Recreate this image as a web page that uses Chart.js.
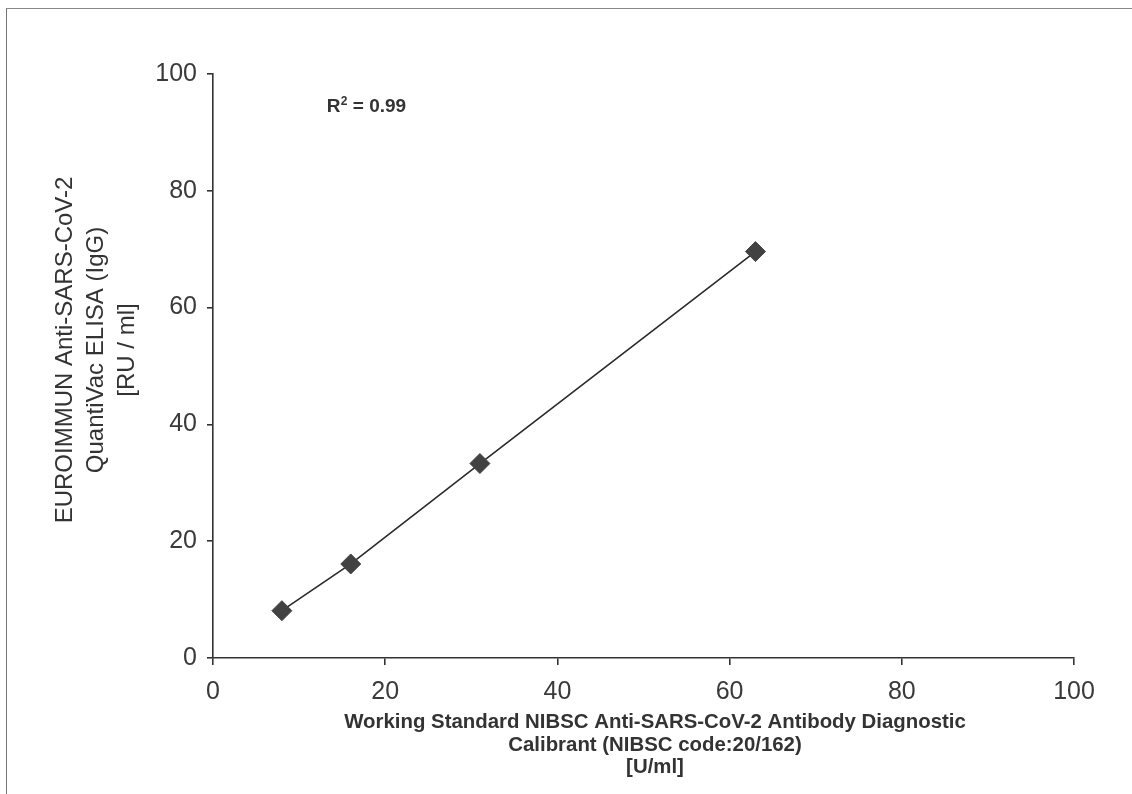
<!DOCTYPE html>
<html>
<head>
<meta charset="utf-8">
<script src="https://cdn.jsdelivr.net/npm/chart.js@4/dist/chart.umd.min.js"></script>
<style>
  html, body { margin: 0; padding: 0; background: #fff; }
  #marco { position: absolute; left: 6px; top: 8px; width: 1200px; height: 900px;
           border-left: 1.5px solid #777; border-top: 1.5px solid #888; }
  #grafico { position: absolute; left: 0; top: 0; }
</style>
</head>
<body>
<div id="marco"></div>
<canvas id="grafico" width="1132" height="794"></canvas>
<script>
// --- DATOS ---
const valoresX = [8, 16, 31, 63];          // U/ml (NIBSC 20/162)
const valoresY = [8.1, 16.1, 33.3, 69.6];  // RU/ml (EUROIMMUN)
const ticksEje = [0, 20, 40, 60, 80, 100];
const tituloY = ['EUROIMMUN Anti-SARS-CoV-2', 'QuantiVac ELISA (IgG)', '[RU / ml]'];
const tituloX = ['Working Standard NIBSC Anti-SARS-CoV-2 Antibody Diagnostic',
                 'Calibrant (NIBSC code:20/162)', '[U/ml]'];
const textoR2 = { base: 'R', sup: '2', resto: ' = 0.99', x: 13.2, y: 93.5 };

const puntos = valoresX.map((x, i) => ({ x: x, y: valoresY[i] }));

// --- TITULOS Y ANOTACION (dibujados a mano) ---
const textosExtra = {
  id: 'textosExtra',
  afterDraw(chart) {
    const ctx = chart.ctx;
    ctx.save();
    ctx.fillStyle = '#333';

    // titulo eje Y, rotado
    ctx.font = '24px "Liberation Sans", Arial, sans-serif';
    ctx.textAlign = 'center';
    ctx.textBaseline = 'middle';
    const columnas = [65, 96, 127];
    tituloY.forEach((linea, i) => {
      ctx.save();
      ctx.translate(columnas[i], 350);
      ctx.rotate(-Math.PI / 2);
      ctx.fillText(linea, 0, 0);
      ctx.restore();
    });

    // titulo eje X
    ctx.font = 'bold 20.4px "Liberation Sans", Arial, sans-serif';
    const filas = [722, 745, 767];
    tituloX.forEach((linea, i) => ctx.fillText(linea, 655, filas[i]));

    // R^2
    const px = chart.scales.x.getPixelForValue(textoR2.x);
    const py = chart.scales.y.getPixelForValue(textoR2.y);
    ctx.textAlign = 'left';
    ctx.textBaseline = 'alphabetic';
    ctx.font = 'bold 19px "Liberation Sans", Arial, sans-serif';
    ctx.fillText(textoR2.base, px, py);
    let ancho = ctx.measureText(textoR2.base).width;
    ctx.font = 'bold 12px "Liberation Sans", Arial, sans-serif';
    ctx.fillText(textoR2.sup, px + ancho + 0.5, py - 7);
    ancho += ctx.measureText(textoR2.sup).width + 0.5;
    ctx.font = 'bold 19px "Liberation Sans", Arial, sans-serif';
    ctx.fillText(textoR2.resto, px + ancho, py);
    ctx.restore();
  }
};

const colorEje = '#333';
const fuenteTicks = { family: '"Liberation Sans", Arial, sans-serif', size: 25 };

new Chart(document.getElementById('grafico'), {
  type: 'scatter',
  data: {
    datasets: [{
      data: puntos,
      showLine: true,
      borderColor: '#2a2a2a',
      borderWidth: 1.6,
      pointStyle: 'rectRot',
      pointRadius: 10,
      pointHoverRadius: 10,
      pointBackgroundColor: '#424242',
      pointBorderColor: '#424242',
      pointBorderWidth: 1
    }]
  },
  options: {
    responsive: false,
    animation: false,
    events: [],
    layout: { padding: { top: 74, right: 58, left: 0, bottom: 0 } },
    plugins: { legend: { display: false }, tooltip: { enabled: false } },
    scales: {
      x: {
        type: 'linear', min: 0, max: 100,
        afterFit: (s) => { s.height = 136; },
        afterBuildTicks: (s) => { s.ticks = ticksEje.map(v => ({ value: v })); },
        border: { display: true, color: colorEje, width: 1.6 },
        grid: { drawOnChartArea: false, drawTicks: true, tickLength: 7, color: colorEje, lineWidth: 1.6 },
        ticks: { color: '#3a3a3a', font: fuenteTicks, padding: 12, maxRotation: 0 }
      },
      y: {
        type: 'linear', min: 0, max: 100,
        afterFit: (s) => { s.width = 213; },
        afterBuildTicks: (s) => { s.ticks = ticksEje.map(v => ({ value: v })); },
        border: { display: true, color: colorEje, width: 1.6 },
        grid: { drawOnChartArea: false, drawTicks: true, tickLength: 6, color: colorEje, lineWidth: 1.6 },
        ticks: { color: '#3a3a3a', font: fuenteTicks, padding: 10 }
      }
    }
  },
  plugins: [textosExtra]
});
</script>
</body>
</html>
